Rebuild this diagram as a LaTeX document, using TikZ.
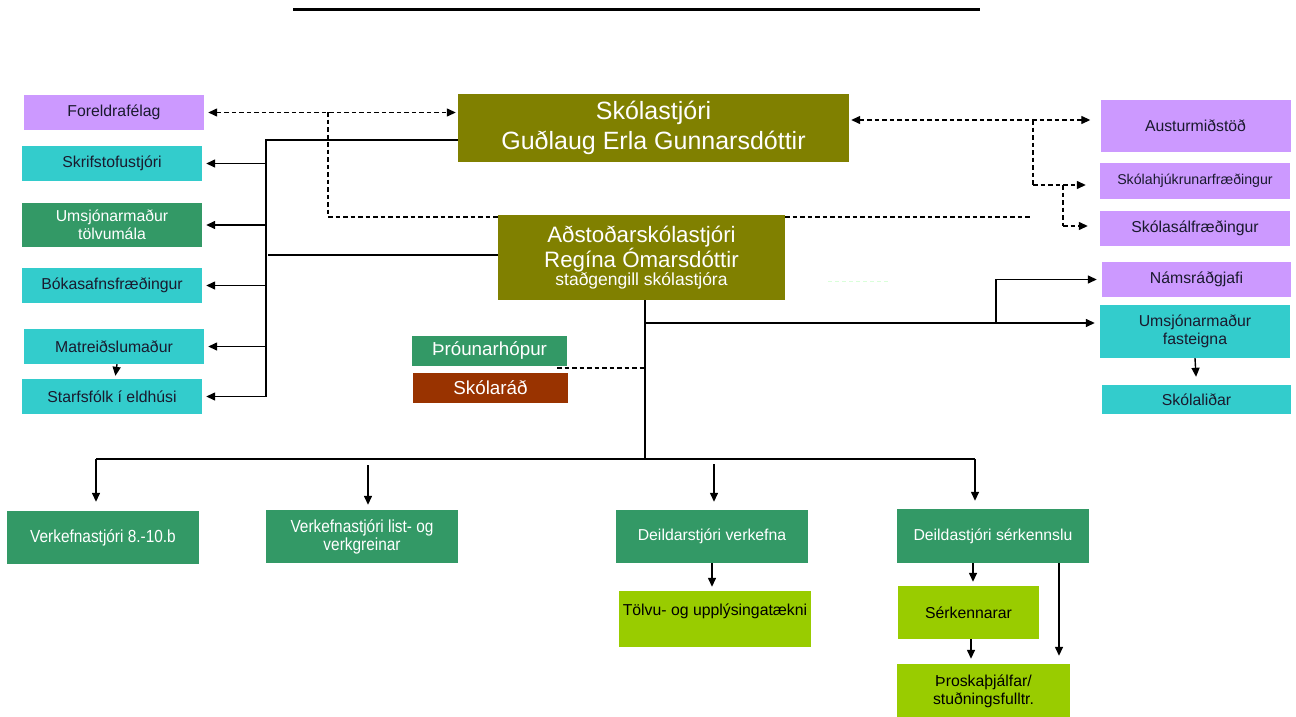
\documentclass[tikz,border=0pt]{standalone}
\usepackage{fontspec}
\setmainfont{Liberation Sans}
\newfontfamily\narrowsans[FakeStretch=0.88]{Liberation Sans}
\usetikzlibrary{arrows.meta}
\definecolor{cpurple}{HTML}{CC99FF}
\definecolor{ccyan}{HTML}{33CCCC}
\definecolor{cgreen}{HTML}{339966}
\definecolor{colive}{HTML}{808000}
\definecolor{cbrown}{HTML}{993300}
\definecolor{clime}{HTML}{99CC00}
\definecolor{ctext}{HTML}{1A1A2E}
\tikzset{
  box/.style={rectangle, inner sep=0pt, align=center, font=\fontsize{15.8}{18}\selectfont},
  purplebox/.style={box, fill=cpurple, text=ctext},
  cyanbox/.style={box, fill=ccyan, text=ctext},
  greenbox/.style={box, fill=cgreen, text=white},
  limebox/.style={box, fill=clime, text=black},
  conn/.style={line width=1.4pt, draw=black},
  tip/.style={-{Triangle[length=9pt,width=8pt]}},
  arr/.style={conn, tip, shorten >=4pt},
  darr/.style={line width=1.3pt, dash pattern=on 4.5pt off 3pt, {Triangle[length=9pt,width=8pt]}-{Triangle[length=9pt,width=8pt]}},
  dline/.style={line width=1.3pt, dash pattern=on 4.5pt off 3pt},
  dtip/.style={dline, tip},
}
\begin{document}
\begin{tikzpicture}[x=1pt,y=-1pt]
\useasboundingbox (0,0) rectangle (1296,717);
% top rule
\coordinate (rl) at (293,10);
\coordinate (rr) at (980,10);
\draw[line width=3pt] (rl) -- (rr);

% left column
\node[purplebox, minimum width=180, minimum height=35] (forel) at (114,112.5) {Foreldrafélag};
\node[cyanbox, minimum width=180, minimum height=35] (skrif) at (112,163.5) {Skrifstofustjóri};
\node[greenbox, minimum width=180, minimum height=44] (umtol) at (112,225) {Umsjónarmaður\\tölvumála};
\node[cyanbox, minimum width=180, minimum height=35] (boka) at (112,285.5) {Bókasafnsfræðingur};
\node[cyanbox, minimum width=180, minimum height=35] (matr) at (114,346.5) {Matreiðslumaður};
\node[cyanbox, minimum width=180, minimum height=35] (starf) at (112,396.5) {Starfsfólk í eldhúsi};

% top centre
\node[box, fill=colive, text=white, minimum width=391, minimum height=68, font=\fontsize{25}{30}\selectfont] (skol) at (653.5,128) {Skólastjóri\\Guðlaug Erla Gunnarsdóttir};
\node[box, fill=colive, text=white, minimum width=287, minimum height=85] (adst) at (641.5,257.5)
  {{\fontsize{22.3}{24}\selectfont Aðstoðarskólastjóri}\\{\fontsize{22.3}{24}\selectfont Regína Ómarsdóttir}\\{\fontsize{17.5}{21}\selectfont staðgengill skólastjóra}};

% right column
\node[purplebox, minimum width=190, minimum height=52] (aust) at (1195.5,126) {Austurmiðstöð};
\node[purplebox, minimum width=190, minimum height=36, font=\fontsize{14.2}{16}\selectfont] (hjuk) at (1195,181) {Skólahjúkrunarfræðingur};
\node[purplebox, minimum width=190, minimum height=35] (salf) at (1195,228.5) {Skólasálfræðingur};
\node[purplebox, minimum width=189, minimum height=35] (nams) at (1196.5,279.5) {Námsráðgjafi};
\node[cyanbox, minimum width=190, minimum height=53] (umfast) at (1195,331.5) {Umsjónarmaður\\fasteigna};
\node[cyanbox, minimum width=189, minimum height=29] (skli) at (1196.5,399.5) {Skólaliðar};

% middle small boxes
\node[greenbox, minimum width=155, minimum height=30, font=\fontsize{18.8}{20}\selectfont] (throun) at (489.5,351) {Þróunarhópur};
\node[box, fill=cbrown, text=white, minimum width=155, minimum height=30, font=\fontsize{18.8}{20}\selectfont] (skrad) at (490.5,388) {Skólaráð};

% bottom row
\node[greenbox, minimum width=192, minimum height=53, font=\narrowsans\fontsize{17.5}{18}\selectfont] (verk1) at (103,537.5) {Verkefnastjóri 8.-10.b};
\node[greenbox, minimum width=192, minimum height=53, font=\narrowsans\fontsize{17.5}{18}\selectfont] (verk2) at (362,536.5) {Verkefnastjóri list- og\\verkgreinar};
\node[greenbox, minimum width=192, minimum height=53] (deildv) at (712,536.5) {Deildarstjóri verkefna};
\node[greenbox, minimum width=192, minimum height=54] (deilds) at (993,536) {Deildastjóri sérkennslu};
\node[limebox, minimum width=192, minimum height=56, text height=11pt, text depth=18pt] (tolvu) at (715,619) {Tölvu- og upplýsingatækni};
\node[limebox, minimum width=141, minimum height=53] (serk) at (968.5,612.5) {Sérkennarar};
\node[limebox, minimum width=173, minimum height=55] (throsk) at (983.5,691.5) {Þroskaþjálfar/\\stuðningsfulltr.};

% ---- left bus
\coordinate (busT) at (266,140);
\draw[conn] (skol.west |- busT) -- (busT) -- (busT |- starf.east);
\draw[arr] (busT |- skrif.east) -- (skrif.east);
\draw[arr] (busT |- umtol.east) -- (umtol.east);
\draw[arr] (busT |- boka.east) -- (boka.east);
\draw[arr] (busT |- matr.east) -- (matr.east);
\draw[arr] (busT |- starf.east) -- (starf.east);
\coordinate (adL) at (268,255);
\draw[conn] (adL) -- (adL -| adst.west);
\draw[arr, shorten >=3pt] ([xshift=3pt]matr.south) -- ([xshift=3pt]starf.north);

% ---- dashed links left
\coordinate (dl) at (328,112);
\draw[darr, shorten <=4pt, shorten >=2pt] (forel.east) -- (forel.east -| skol.west);
\coordinate (dlb) at (328,217);
\draw[dline] (dl) -- (dlb) -- (dlb -| adst.west);
% ---- dashed links right
\draw[darr, shorten <=2pt, shorten >=10pt] (skol.east |- 0,120) -- (aust.west |- 0,120);
\coordinate (dr) at (1033,120);
\coordinate (drb) at (1033,185);
\draw[dline] (dr) -- (drb);
\draw[dtip, shorten >=14pt] (drb) -- (drb -| hjuk.west);
\coordinate (dr2) at (1063,185);
\coordinate (dr2b) at (1063,226);
\draw[dline] (dr2) -- (dr2b);
\draw[dtip, shorten >=12pt] (dr2b) -- (dr2b -| salf.west);
\coordinate (drm) at (1032,217);
\draw[dline] (adst.east |- drm) -- (drm);
% faint line
\coordinate (fa) at (828,281);
\coordinate (fb) at (890,281);
\draw[green!15, line width=1pt, dash pattern=on 4pt off 3pt] (fa) -- (fb);

% ---- main vertical & right branches
\coordinate (spine) at (645,459);
\draw[conn] (adst.south -| spine) -- (spine);
\coordinate (rj) at (645,323);
\draw[arr, shorten >=5pt] (rj) -- (rj -| umfast.west);
\coordinate (rk) at (996,323);
\draw[arr, shorten >=5pt] (rk) -- (rk |- nams.west) -- (nams.west);
\draw[arr, shorten >=8pt] (umfast.south) -- (skli.north);

% dashed from þróunarhópur
\coordinate (dt) at (557,368);
\draw[dline] (dt) -- (dt -| spine);

% ---- bottom bus
\coordinate (bl) at (96,459);
\coordinate (br) at (975,459);
\draw[conn] (bl) -- (br);
\draw[arr, shorten >=9pt] (bl) -- (bl |- verk1.north);
\draw[arr, shorten >=8pt] (br) -- (br |- deilds.north);
\coordinate (b2) at (368,465);
\draw[arr, shorten >=5pt] (b2) -- (b2 |- verk2.north);
\coordinate (b3) at (714,464);
\draw[arr, shorten >=8pt] (b3) -- (b3 |- deildv.north);

% ---- lower arrows
\draw[arr] (deildv.south) -- (tolvu.north -| deildv.south);
\coordinate (s1) at (973,563);
\draw[arr] (s1) -- (s1 |- serk.north);
\coordinate (s2) at (971,639);
\draw[arr, shorten >=5pt] (s2) -- (s2 |- throsk.north);
\coordinate (s3) at (1059,563);
\draw[arr, shorten >=8pt] (s3) -- (s3 |- throsk.north);
\end{tikzpicture}
\end{document}
